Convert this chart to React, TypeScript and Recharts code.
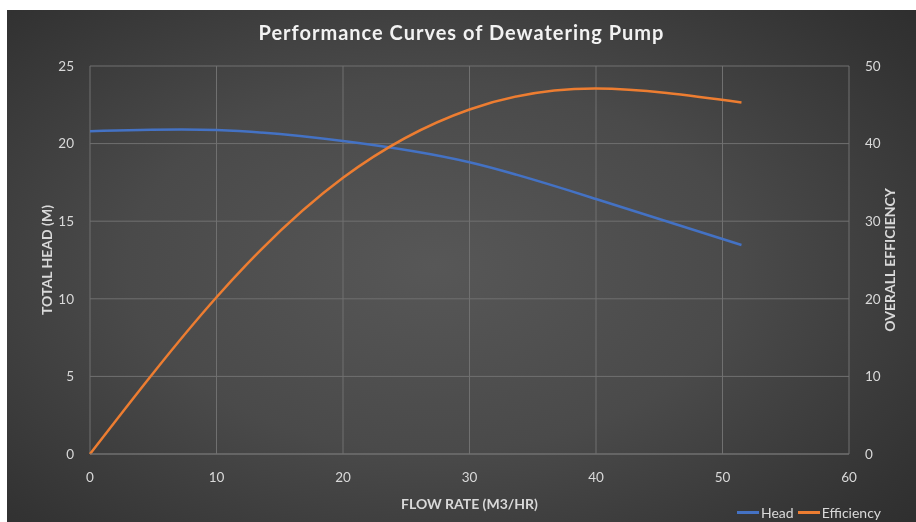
import React from "react";
import {
  LineChart,
  Line,
  XAxis,
  YAxis,
  CartesianGrid,
  Label,
} from "recharts";

const flowRates = [0, 10, 20, 30, 40, 51.5];
const headValues = [20.8, 20.88, 20.17, 18.8, 16.43, 13.47];
const efficiencyValues = [0, 20.2, 35.6, 44.4, 47.1, 45.3];

const xTicks = [0, 10, 20, 30, 40, 50, 60];
const headTicks = [0, 5, 10, 15, 20, 25];
const effTicks = [0, 10, 20, 30, 40, 50];

const HEAD_COLOR = "#4472C4";
const EFF_COLOR = "#ED7D31";
const TEXT = "#d9d9d9";
const FONT = "Lato, 'Open Sans', sans-serif";

const data = flowRates.map((flow, i) => ({
  flow,
  head: headValues[i],
  efficiency: efficiencyValues[i],
}));

const legendItems = [
  { name: "Head", color: HEAD_COLOR },
  { name: "Efficiency", color: EFF_COLOR },
];

export default function App() {
  const tick = { fill: TEXT, fontSize: 13.5, fontFamily: FONT };
  const axisTitle = { fill: TEXT, fontSize: 14, fontWeight: 700, fontFamily: FONT, textAnchor: "middle" as const };
  return (
    <div
      style={{
        position: "fixed",
        left: 7,
        top: 10,
        width: 909,
        height: 512,
        background:
          "radial-gradient(ellipse 75% 80% at 47% 50%, #575757 0%, #4a4a4a 45%, #333333 85%, #2c2c2c 100%)",
        overflow: "hidden",
      }}
    >
      <div
        style={{
          position: "absolute",
          top: 10,
          left: 0,
          width: "100%",
          textAlign: "center",
          color: "#f2f2f2",
          fontFamily: FONT,
          fontWeight: 700,
          fontSize: 20,
          letterSpacing: 1,
        }}
      >
        Performance Curves of Dewatering Pump
      </div>
      <LineChart
        width={909}
        height={512}
        data={data}
        margin={{ top: 56, right: 0, bottom: 0, left: 0 }}
      >
        <CartesianGrid yAxisId="left" stroke="#707070" strokeWidth={1} />
        <XAxis
          dataKey="flow"
          type="number"
          domain={[0, 60]}
          ticks={xTicks}
          tick={tick}
          tickLine={false}
          axisLine={{ stroke: "#707070" }}
          height={68}
          tickMargin={12}
        >
          <Label value="FLOW RATE (M3/HR)" position="insideBottom" offset={13} style={axisTitle} />
        </XAxis>
        <YAxis
          yAxisId="left"
          domain={[0, 25]}
          ticks={headTicks}
          tick={tick}
          tickLine={false}
          axisLine={false}
          width={83}
          tickMargin={10}
        >
          <Label value="TOTAL HEAD (M)" angle={-90} position="insideLeft" offset={40} style={axisTitle} />
        </YAxis>
        <YAxis
          yAxisId="right"
          orientation="right"
          domain={[0, 50]}
          ticks={effTicks}
          tick={tick}
          tickLine={false}
          axisLine={false}
          width={67}
          tickMargin={10}
        >
          <Label value="OVERALL EFFICIENCY" angle={-90} position="insideRight" offset={26} style={axisTitle} />
        </YAxis>
        <Line
          yAxisId="left"
          type="natural"
          dataKey="head"
          name="Head"
          stroke={HEAD_COLOR}
          strokeWidth={2.5}
          dot={false}
          isAnimationActive={false}
        />
        <Line
          yAxisId="right"
          type="natural"
          dataKey="efficiency"
          name="Efficiency"
          stroke={EFF_COLOR}
          strokeWidth={2.5}
          dot={false}
          isAnimationActive={false}
        />
      </LineChart>
      <div
        style={{
          position: "absolute",
          left: 730,
          top: 494,
          display: "flex",
          gap: 4,
          fontFamily: FONT,
          fontSize: 14,
          color: TEXT,
        }}
      >
        {legendItems.map((it) => (
          <div key={it.name} style={{ display: "flex", alignItems: "center" }}>
            <span style={{ width: 22, height: 3, background: it.color, display: "inline-block" }} />
            <span style={{ marginLeft: 2 }}>{it.name}</span>
          </div>
        ))}
      </div>
    </div>
  );
}
